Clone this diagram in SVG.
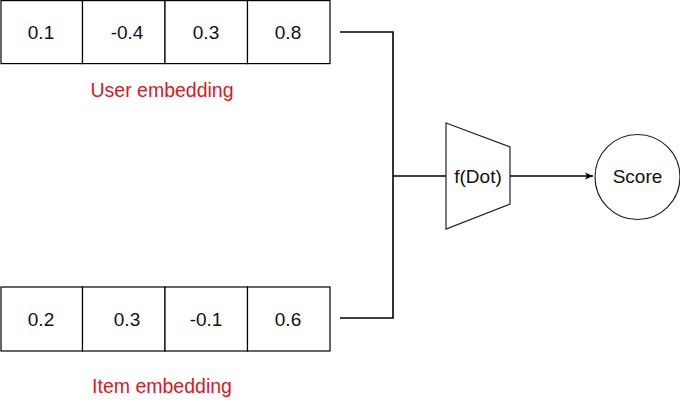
<svg xmlns="http://www.w3.org/2000/svg" width="680" height="405" viewBox="0 0 680 405">
<style>
.cell{fill:#fff;stroke:#000;stroke-width:1.2}
.num{font-family:"Liberation Sans",Arial,sans-serif;font-size:19px;fill:#111;text-anchor:middle}
.lbl{font-family:"Liberation Sans",Arial,sans-serif;font-size:19.5px;fill:#d7191f;text-anchor:middle}
.conn{fill:none;stroke:#000;stroke-width:1.6}
.shape{fill:#fff;stroke:#222;stroke-width:1.2}
</style>
<defs>
<marker id="arr" markerWidth="10" markerHeight="10" refX="9" refY="5" orient="auto" markerUnits="userSpaceOnUse">
<path d="M1,1.5 L9,5 L1,8.5 L3,5 Z" fill="#000"/>
</marker>
</defs>
<rect width="680" height="405" fill="#fff"/>
<g id="user-embedding">
<rect class="cell" x="1" y="0.6" width="81.5" height="63"/>
<rect class="cell" x="82.5" y="0.6" width="82.5" height="63"/>
<rect class="cell" x="165" y="0.6" width="82.5" height="63"/>
<rect class="cell" x="247.5" y="0.6" width="82.5" height="63"/>
<text class="num" x="41" y="39">0.1</text>
<text class="num" x="127" y="39">-0.4</text>
<text class="num" x="206" y="39">0.3</text>
<text class="num" x="288" y="39">0.8</text>
<text class="lbl" x="162" y="97">User embedding</text>
</g>
<g id="item-embedding">
<rect class="cell" x="1" y="287" width="81.5" height="64"/>
<rect class="cell" x="82.5" y="287" width="82.5" height="64"/>
<rect class="cell" x="165" y="287" width="82.5" height="64"/>
<rect class="cell" x="247.5" y="287" width="82.5" height="64"/>
<text class="num" x="41" y="326">0.2</text>
<text class="num" x="127" y="326">0.3</text>
<text class="num" x="206" y="326">-0.1</text>
<text class="num" x="288" y="326">0.6</text>
<text class="lbl" x="162" y="393">Item embedding</text>
</g>
<g id="connectors">
<path class="conn" d="M340,32 H393 V318 H340"/>
<path class="conn" d="M393,176 H446"/>
<path class="conn" d="M510,176 H593" stroke-width="1.2" marker-end="url(#arr)"/>
</g>
<g id="f-dot">
<path class="shape" d="M446,123 L510,147 L510,204 L446,229 Z"/>
<text class="num" x="478" y="183">f(Dot)</text>
</g>
<g id="score">
<circle class="shape" cx="637.5" cy="177" r="42.5"/>
<text class="num" x="637.5" y="183">Score</text>
</g>
</svg>
